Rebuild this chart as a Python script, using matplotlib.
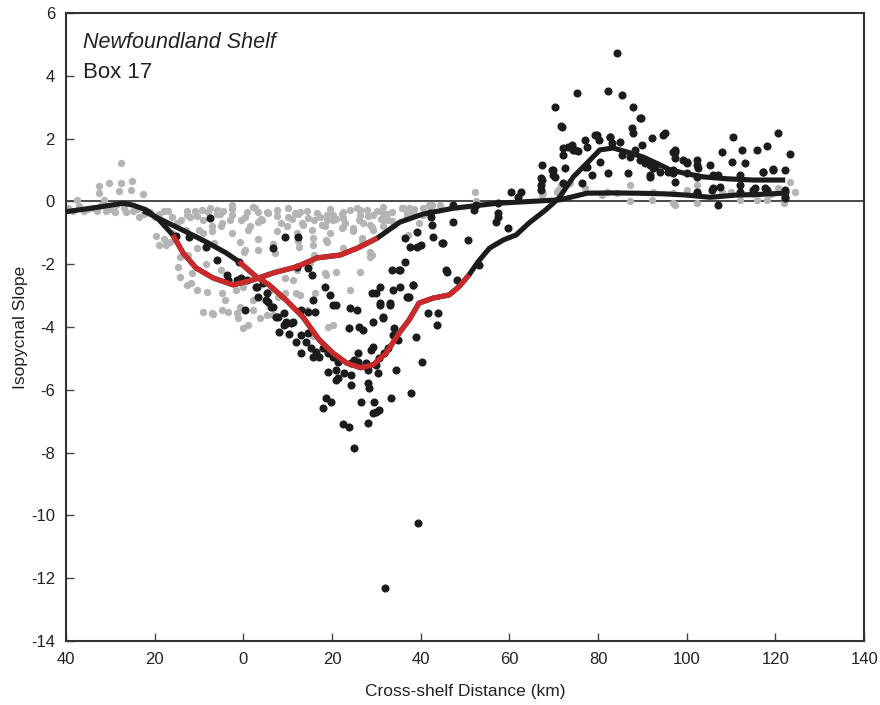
import matplotlib
matplotlib.use("Agg")
import matplotlib.pyplot as plt
import numpy as np

plt.rcParams['font.family'] = ['Liberation Sans', 'DejaVu Sans']
plt.rcParams['axes.unicode_minus'] = False

# ---- data (km, slope) ----
gray_pts = [
    (-39.5, -0.2), (-38.5, -0.3), (-37.5, 0.05), (-37.0, -0.15), (-36.0, -0.3), (-35.0, -0.25),
    (-34.0, -0.2), (-33.0, -0.3), (-32.6, 0.5), (-32.6, 0.28), (-32.0, -0.1), (-31.5, 0.05),
    (-31.0, -0.3), (-30.2, 0.58), (-30.0, -0.25), (-29.0, -0.35), (-28.8, -0.1), (-28.0, 0.34),
    (-27.6, 1.21), (-27.6, 0.58), (-27.0, -0.2), (-26.5, -0.35), (-25.3, 0.36), (-25.1, 0.66),
    (-25.0, -0.3), (-24.0, -0.25), (-23.5, -0.5), (-22.6, 0.24), (-22.5, -0.4), (-21.0, -0.35),
    (-20.0, -0.5), (-19.0, -0.4), (-18.0, -0.3), (-17.0, -0.3), (-16.0, -0.5),
    (-19.7, -1.1), (-19.0, -1.4), (-18.0, -1.2), (-17.5, -1.4), (-16.5, -1.3), (-16.0, -1.0),
    (-15.0, -0.7), (-14.0, -0.6), (-13.0, -0.9), (-12.0, -0.5), (-11.0, -0.3), (-10.0, -0.9),
    (-12.5, -1.7), (-10.5, -1.5), (-9.0, -0.6), (-9.0, -1.0), (-7.0, -0.8), (-6.0, -0.4),
    (-5.0, -0.8), (-4.5, -0.3), (-3.0, -0.6),
    (-14.7, -2.08), (-14.3, -2.4), (-12.7, -2.66), (-11.6, -2.28), (-10.5, -2.82), (-8.2, -2.88),
    (-9.1, -3.52), (-7.1, -3.55), (-4.8, -3.46), (-3.5, -3.52), (-1.4, -3.55), (-4.8, -2.92),
    (-4.1, -3.14), (-0.7, -3.36), (2.2, -3.14), (2.2, -3.45), (-14.3, -1.77), (-6.8, -3.59),
    (-1.2, -3.7), (0.0, -4.03), (1.1, -3.94), (3.8, -3.7), (5.3, -3.62), (6.7, -3.62),
    (19.1, -4.0), (20.2, -3.94), (15.7, -4.3), (-11.8, -2.6), (-5.0, -2.18), (-1.6, -2.82),
    (-6.6, -1.33), (-8.5, -2.0),
    (-12.7, -0.3), (-10.5, -0.45), (-7.5, -0.2), (-5.3, -0.4), (-2.6, -0.25), (0.4, -0.5),
    (2.6, -0.2), (5.3, -0.35), (7.6, -0.45), (10.1, -0.2), (12.4, -0.4), (14.4, -0.3),
    (17.3, -0.5), (19.6, -0.25), (22.3, -0.4), (25.7, -0.2), (28.1, -0.45), (30.1, -0.3),
    (32.4, -0.4), (36.0, -0.2), (38.2, -0.35), (42.1, -0.15), (44.4, -0.1),
    (-12.7, -0.43), (-9.3, -0.27), (-7.9, -0.33), (-5.9, -0.27), (-2.6, -0.11), (-2.6, -0.43),
    (0.8, -0.33), (2.2, -0.18), (3.3, -0.33), (4.2, -0.59), (5.6, -0.37), (7.6, -0.27),
    (10.1, -0.49), (11.7, -0.37), (12.8, -0.33), (14.6, -0.53), (16.6, -0.37), (18.9, -0.43),
    (18.9, -0.59), (20.2, -0.43), (20.2, -0.59), (22.5, -0.33), (22.5, -0.53), (24.0, -0.27),
    (26.3, -0.27), (26.3, -0.43), (27.9, -0.27), (29.3, -0.43), (31.5, -0.18), (31.5, -0.37),
    (31.5, -0.59), (33.5, -0.33), (33.5, -0.63), (35.8, -0.2), (36.9, -0.37), (38.3, -0.27),
    (40.6, -0.2), (40.6, -0.43), (42.6, -0.11), (52.3, 0.3),
    (22.5, -0.82), (24.8, -0.85), (29.1, -0.82), (26.8, -1.17), (29.1, -1.71),
    (-0.5, -0.6), (1.5, -0.8), (4.0, -0.55), (8.5, -0.7), (11.0, -0.55), (13.5, -0.75),
    (16.0, -0.6), (18.5, -0.8), (21.0, -0.55), (23.0, -0.7), (26.0, -0.6), (28.5, -0.75),
    (31.0, -0.55), (34.0, -0.75), (37.0, -0.5), (39.5, -0.7),
    (-7.1, -0.95), (-4.8, -0.7), (-2.6, -1.0), (1.1, -0.9), (3.3, -0.65), (7.6, -0.95),
    (9.9, -0.8), (12.1, -1.0), (13.2, -0.7), (15.5, -0.9), (17.7, -0.75), (19.6, -1.0),
    (22.3, -0.85), (24.8, -0.95), (27.0, -0.7), (29.3, -0.9), (31.5, -0.8), (32.6, -0.6),
    (-0.7, -1.3), (3.3, -1.2), (6.7, -1.35), (12.4, -1.25), (15.7, -1.4), (18.9, -1.3),
    (22.5, -1.5), (26.8, -1.3), (28.6, -1.6), (0.4, -1.55), (3.3, -1.55), (7.2, -1.65),
    (12.1, -2.18), (15.0, -1.96), (18.4, -2.28), (24.1, -2.82), (26.3, -2.24), (28.6, -1.77),
    (12.8, -2.98), (16.2, -2.92), (14.4, -3.45), (9.4, -2.44), (6.0, -2.82), (9.4, -2.92),
    (0.2, -1.6), (16.0, -1.71), (18.6, -2.34), (20.9, -2.24), (11.2, -2.5), (11.9, -2.92),
    (7.8, -3.04), (0.0, -2.72), (18.6, -1.23), (15.7, -1.17), (12.6, -1.45),
    (37.1, -1.07), (37.4, -0.2), (38.5, -0.25), (41.9, -0.1), (42.4, -0.2), (52.5, 0.0),
    (67.4, 0.2), (67.6, 0.27), (70.7, 0.3), (71.0, 0.36), (71.6, 0.52), (72.1, 0.46),
    (73.7, 0.58), (77.0, 0.42), (80.9, 0.2), (82.0, 0.3), (84.2, 0.27), (87.2, 0.52),
    (87.2, 0.0), (92.2, 0.04), (92.4, 0.3), (96.9, 0.27), (96.9, -0.05), (97.4, -0.1),
    (100.0, 0.36), (102.3, 0.52), (102.3, -0.05), (108.0, 0.3), (110.0, 0.3), (112.0, 0.04),
    (115.0, 0.25), (115.8, 0.04), (118.0, 0.04), (119.0, 0.25), (120.6, 0.42), (123.3, 0.62),
    (124.4, 0.3), (122.0, -0.05),
]

black_pts = [
    (-15.2, -1.1), (-12.3, -1.14), (-8.4, -1.44), (-7.5, -0.54), (-5.9, -1.87), (-3.7, -2.34),
    (-3.5, -2.5), (-1.4, -2.5), (-0.9, -1.92), (0.8, -2.5), (3.1, -2.72), (4.4, -2.6),
    (5.3, -2.92), (5.6, -3.2), (0.4, -3.45), (9.9, -3.87), (11.2, -3.84), (6.7, -1.49),
    (9.4, -1.13), (12.4, -1.13), (12.1, -2.08), (14.6, -2.12), (15.5, -2.34), (18.4, -2.72),
    (19.6, -2.98), (20.2, -3.3), (21.0, -3.3), (15.7, -3.14), (16.2, -3.52), (24.1, -3.4),
    (25.7, -3.45), (29.1, -2.92), (30.8, -2.72), (30.8, -3.24), (33.1, -3.24), (33.8, -2.82),
    (35.3, -2.72), (36.9, -3.04), (38.2, -2.66), (36.5, -1.93), (35.3, -2.18), (33.5, -2.18),
    (36.5, -1.17), (37.6, -1.45), (39.1, -1.45), (40.1, -1.4), (39.1, -0.97), (42.8, -1.13),
    (42.6, -0.75), (44.8, -1.33), (45.9, -2.24), (48.2, -2.5), (41.7, -3.55), (44.0, -3.55),
    (43.7, -3.94), (-0.5, -2.44), (2.9, -2.72), (3.3, -3.04), (5.1, -3.14), (6.2, -3.36),
    (7.4, -3.68), (9.2, -3.55), (13.0, -3.45), (14.6, -3.52), (29.9, -2.92), (31.5, -3.7),
    (37.1, -3.04), (35.1, -2.18), (6.7, -3.36), (7.8, -3.68), (30.8, -3.3), (33.1, -3.3),
    (31.5, -3.68),
    (8.0, -4.16), (9.2, -3.94), (10.3, -4.23), (9.6, -3.84), (10.7, -3.87), (11.9, -4.47),
    (13.0, -4.25), (14.2, -4.47), (14.6, -4.2), (13.0, -4.83), (15.2, -4.67), (16.4, -4.8),
    (15.7, -4.95), (17.1, -4.95), (18.0, -4.67), (19.1, -4.83), (20.2, -4.95), (21.4, -5.11),
    (19.1, -5.43), (20.9, -5.37), (21.4, -5.62), (22.7, -5.46), (24.3, -5.52), (24.3, -5.84),
    (25.0, -5.05), (25.9, -4.83), (23.8, -4.03), (26.1, -4.0), (27.0, -4.09), (29.3, -3.84),
    (29.3, -4.63), (28.8, -4.73), (28.1, -5.37), (29.9, -5.2), (30.4, -5.46), (28.1, -5.78),
    (28.4, -5.94), (26.5, -6.39), (29.5, -6.39), (29.9, -6.7), (29.3, -6.74), (30.6, -6.64),
    (33.3, -6.26), (34.4, -5.37), (28.1, -7.06), (23.8, -7.18), (22.5, -7.09), (25.0, -7.86),
    (18.7, -6.26), (19.8, -6.39), (18.0, -6.58), (33.8, -4.25), (34.9, -4.41), (34.0, -4.03),
    (37.8, -6.1), (39.0, -4.32), (20.9, -5.69), (21.6, -5.05), (24.3, -5.14), (25.9, -5.11),
    (27.7, -5.14), (30.6, -4.99), (31.8, -4.83), (32.7, -4.67), (40.3, -5.11),
    (39.4, -10.24), (32.0, -12.31),
    (47.3, -0.11), (47.3, -0.66), (50.7, -1.23), (52.0, -0.27), (52.5, -0.11), (57.4, -0.05),
    (57.0, -0.66), (57.4, -0.5), (57.4, -0.37), (59.7, -0.85), (60.3, 0.3), (62.6, 0.3),
    (62.0, 0.14), (67.1, 0.74), (67.1, 0.52), (67.1, 0.36), (67.4, 1.16), (69.8, 1.0),
    (69.8, 0.85), (45.7, -2.18), (53.2, -2.02), (38.3, -2.66), (37.4, -3.04), (42.3, -0.5),
    (42.1, -0.37), (45.1, -1.33),
    (71.9, 2.37), (70.3, 3.0), (75.3, 3.45), (72.6, 1.06), (72.1, 1.7), (72.1, 1.48),
    (73.3, 1.73), (74.4, 1.64), (75.5, 1.6), (77.0, 1.96), (77.5, 1.73), (77.5, 1.1),
    (79.7, 2.12), (80.2, 1.95), (80.4, 1.26), (78.7, 0.84), (82.3, 0.9), (82.7, 2.05),
    (83.1, 1.86), (85.0, 1.89), (85.4, 1.48), (86.8, 0.9), (87.2, 1.41), (87.7, 2.33),
    (87.9, 2.17), (87.9, 3.0), (89.5, 2.65), (89.9, 1.79), (89.5, 1.32), (90.5, 1.25),
    (91.7, 1.16), (92.2, 2.02), (91.7, 0.84), (95.1, 2.17), (97.4, 1.64), (97.4, 0.62),
    (99.2, 1.32), (100.0, 1.22), (102.3, 1.32), (102.3, 1.15), (102.3, 0.26), (105.3, 1.16),
    (107.0, -0.11), (108.0, 1.58), (110.2, 1.26), (110.4, 2.05), (112.5, 1.64), (113.1, 1.22),
    (112.0, 0.84), (115.8, 1.64), (118.0, 1.77), (117.2, 0.94), (119.5, 1.0), (120.6, 2.17),
    (122.2, 1.0), (123.3, 1.51), (122.2, 0.3), (122.2, 0.1), (118.0, 0.36), (115.0, 0.36),
    (112.0, 0.52), (112.0, 0.3), (105.7, 0.36), (105.9, 0.84), (96.9, 0.9), (94.0, 0.94),
    (92.4, 1.06), (84.2, 4.72), (82.3, 3.5), (85.4, 3.4),
    (67.4, 0.68), (69.6, 1.0), (70.3, 0.78), (72.1, 0.58), (71.6, 2.4), (74.2, 1.79),
    (74.9, 1.64), (79.3, 2.12), (82.7, 2.05), (76.4, 0.58), (77.0, 1.1), (88.3, 1.64),
    (90.6, 1.22), (94.7, 2.12), (92.9, 1.1), (91.7, 0.78), (95.8, 0.94), (96.9, 1.58),
    (97.4, 1.38), (89.7, 2.65), (100.0, 0.9), (102.6, 1.06), (102.3, 0.78), (107.0, 0.84),
    (117.2, 0.94), (119.5, 1.03), (105.8, 0.43), (107.5, 0.46), (115.4, 0.43), (117.7, 0.43),
    (122.2, 0.36), (122.2, 0.14), (102.3, 0.3), (100.0, 1.26), (97.4, 1.58), (96.9, 1.0),
]

# smoothed profile through black points; red part = highlighted range
fit_black_x = [-22.6, -17.4, -12.9, -8.4, -3.9, -1.0, 2.9, 5.8, 9.6, 13.4, 17.1, 20.2,
               23.2, 26.5, 29.3, 32.2, 35.1, 37.4, 39.6, 42.8, 46.4, 48.6, 50.9, 52.9,
               55.5, 58.6, 61.5, 64.4, 68.2, 71.2, 74.4, 77.5, 80.4, 83.4, 86.6, 90.2,
               94.0, 96.3, 100.0, 103.7, 109.0, 115.0, 122.2]
fit_black_y = [-0.3, -0.66, -0.97, -1.29, -1.64, -1.92, -2.4, -2.66, -3.14, -3.68, -4.41, -4.83,
               -5.14, -5.3, -5.2, -4.83, -4.2, -3.77, -3.24, -3.08, -2.98, -2.72, -2.34, -1.93,
               -1.49, -1.23, -1.07, -0.69, -0.27, 0.11, 0.78, 1.22, 1.64, 1.7, 1.57, 1.41,
               1.16, 1.0, 0.88, 0.78, 0.72, 0.68, 0.68]
red_black = (-1.0, 50.9)

# smoothed profile through gray points
fit_gray_x = [-40.0, -36.0, -32.5, -29.0, -27.1, -24.9, -21.9, -19.0, -15.9, -13.6, -10.7,
              -6.8, -2.3, 2.2, 6.7, 12.1, 16.6, 21.8, 25.7, 30.2, 35.3, 40.6, 47.3, 57.2,
              65.0, 71.4, 77.5, 83.0, 88.8, 95.0, 100.0, 105.3, 111.0, 116.0, 122.0]
fit_gray_y = [-0.33, -0.25, -0.18, -0.1, -0.06, -0.12, -0.27, -0.59, -1.07, -1.64, -2.12,
              -2.44, -2.66, -2.5, -2.28, -2.08, -1.8, -1.71, -1.49, -1.17, -0.66, -0.4, -0.22,
              -0.06, 0.0, 0.05, 0.26, 0.27, 0.26, 0.24, 0.2, 0.13, 0.2, 0.22, 0.26]
red_gray = (-15.9, 30.2)

x_ticks = [-40, -20, 0, 20, 40, 60, 80, 100, 120, 140]
x_tick_labels = ["40", "20", "0", "20", "40", "60", "80", "100", "120", "140"]
y_ticks = [6, 4, 2, 0, -2, -4, -6, -8, -10, -12, -14]

GRAY = "#b4b4b4"
BLACK = "#1c1c1c"
RED = "#cc2a2a"

fig = plt.figure(figsize=(8.8, 7.05), dpi=100)
ax = fig.add_axes([0.075, 0.0908, 0.907, 0.8908])

gp = np.array(gray_pts)
bp = np.array(black_pts)
ax.axhline(0, color="#3a3a3a", lw=1.3, zorder=1)
ax.scatter(gp[:, 0], gp[:, 1], s=28, c=GRAY, lw=0, zorder=2)
ax.scatter(bp[:, 0], bp[:, 1], s=34, c=BLACK, lw=0, zorder=3)


def draw_fit(xs, ys, red_rng):
    xs = np.array(xs)
    ys = np.array(ys)
    ax.plot(xs, ys, color=BLACK, lw=3.7, solid_joinstyle="round",
            solid_capstyle="butt", zorder=4)
    m = (xs >= red_rng[0]) & (xs <= red_rng[1])
    ax.plot(xs[m], ys[m], color=RED, lw=3.7, solid_joinstyle="round",
            solid_capstyle="butt", zorder=5)


draw_fit(fit_gray_x, fit_gray_y, red_gray)
draw_fit(fit_black_x, fit_black_y, red_black)

ax.set_xlim(-40, 140)
ax.set_ylim(-14, 6)
ax.set_xticks(x_ticks)
ax.set_xticklabels(x_tick_labels)
ax.set_yticks(y_ticks)
ax.tick_params(axis="both", direction="in", length=6, width=1, color="#444444",
               labelsize=12, pad=8, labelcolor="#222222")
ax.tick_params(top=False, right=False)
for sp in ax.spines.values():
    sp.set_linewidth(1.5)
    sp.set_color("#333333")

ax.set_xlabel("Cross-shelf Distance (km)", fontsize=12.5, color="#222222", labelpad=12)
ax.set_ylabel("Isopycnal Slope", fontsize=12.5, color="#222222")
ax.yaxis.set_label_coords(-0.048, 0.5)

ax.text(0.021, 0.944, "Newfoundland Shelf", transform=ax.transAxes, fontsize=15.5,
        style="italic", va="baseline", ha="left", color="#222222")
ax.text(0.021, 0.896, "Box 17", transform=ax.transAxes, fontsize=16,
        va="baseline", ha="left", color="#222222")

fig.savefig("out.png", dpi=100)
